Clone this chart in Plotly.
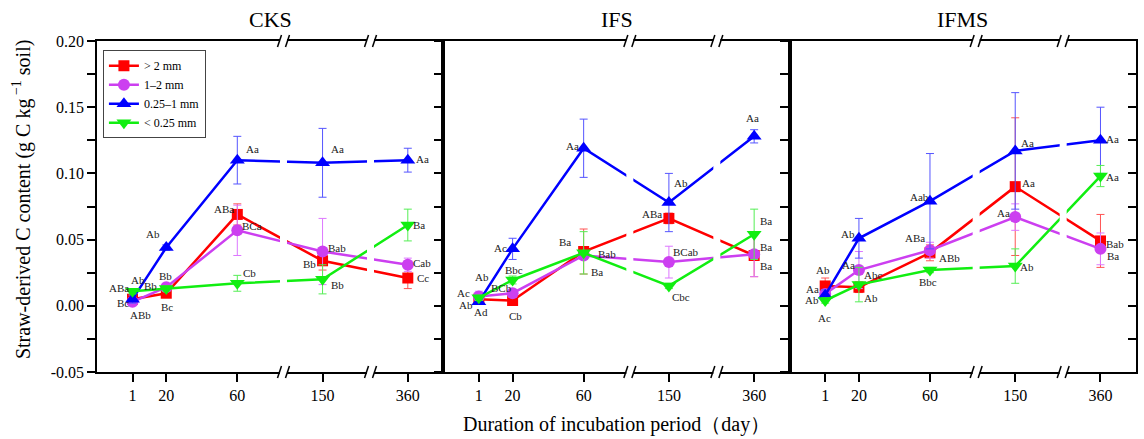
import plotly.graph_objects as go

# ---------------- data ----------------
days = [1, 20, 60, 150, 360]
day_labels = ["1", "20", "60", "150", "360"]
panel_titles = ["CKS", "IFS", "IFMS"]
series_names = ["> 2 mm", "1–2 mm", "0.25–1 mm", "< 0.25 mm"]

# CKS
cks_gt2 = [0.005, 0.0095, 0.069, 0.034, 0.021]
cks_gt2_err = [0.002, 0.002, 0.008, 0.007, 0.008]
cks_gt2_lab = ["Bc", "Bc", "ABa", "Bb", "Cc"]
cks_m12 = [0.003, 0.014, 0.057, 0.041, 0.031]
cks_m12_err = [0.002, 0.002, 0.019, 0.025, 0.005]
cks_m12_lab = ["ABb", "Bb", "BCa", "Bab", "Cab"]
cks_m025 = [0.005, 0.044, 0.110, 0.108, 0.110]
cks_m025_err = [0.003, 0.002, 0.018, 0.026, 0.009]
cks_m025_lab = ["Ab", "Ab", "Aa", "Aa", "Aa"]
cks_lt025 = [0.011, 0.013, 0.017, 0.020, 0.061]
cks_lt025_err = [0.002, 0.002, 0.006, 0.011, 0.012]
cks_lt025_lab = ["ABa", "Bb", "Cb", "Bb", "Ba"]

# IFS
ifs_gt2 = [0.005, 0.004, 0.041, 0.066, 0.038]
ifs_gt2_err = [0.002, 0.002, 0.017, 0.004, 0.016]
ifs_gt2_lab = ["Ab", "Cb", "Ba", "ABa", "Ba"]
ifs_m12 = [0.007, 0.0095, 0.038, 0.033, 0.039]
ifs_m12_err = [0.004, 0.003, 0.003, 0.012, 0.017]
ifs_m12_lab = ["Ac", "BCb", "Bab", "BCab", "Ba"]
ifs_m025 = [0.003, 0.043, 0.119, 0.078, 0.128]
ifs_m025_err = [0.002, 0.008, 0.022, 0.022, 0.005]
ifs_m025_lab = ["Ad", "Ac", "Aa", "Ab", "Aa"]
ifs_lt025 = [0.006, 0.0195, 0.040, 0.015, 0.054]
ifs_lt025_err = [0.002, 0.003, 0.016, 0.002, 0.019]
ifs_lt025_lab = ["Ab", "Bbc", "Ba", "Cbc", "Ba"]

# IFMS
ifms_gt2 = [0.015, 0.014, 0.040, 0.090, 0.049]
ifms_gt2_err = [0.006, 0.004, 0.006, 0.052, 0.020]
ifms_gt2_lab = ["Ab", "Abc", "ABb", "Aa", "Bab"]
ifms_m12 = [0.009, 0.027, 0.042, 0.067, 0.043]
ifms_m12_err = [0.003, 0.014, 0.006, 0.010, 0.012]
ifms_m12_lab = ["Aa", "Aa", "ABa", "Aa", "Ba"]
ifms_m025 = [0.008, 0.051, 0.079, 0.117, 0.125]
ifms_m025_err = [0.004, 0.015, 0.036, 0.044, 0.025]
ifms_m025_lab = ["Ab", "Ab", "Aab", "Aa", "Aa"]
ifms_lt025 = [0.004, 0.016, 0.027, 0.030, 0.098]
ifms_lt025_err = [0.002, 0.013, 0.002, 0.013, 0.008]
ifms_lt025_lab = ["Ac", "Ab", "Bbc", "Ab", "Aa"]

y_tickvals = [-0.05, 0.00, 0.05, 0.10, 0.15, 0.20]
y_ticktext = ["-0.05", "0.00", "0.05", "0.10", "0.15", "0.20"]
y_minor = [-0.025, 0.025, 0.075, 0.125, 0.175]

# ---------------- label offsets in pixels (style): (dx list, dy list), dy positive = down ----------------
offs = {
    "CKS": [
        ([-10, 1, -13, -13, 15], [4, 14, -5, 3, 0]),
        ([8, -1, 15, 14, 14], [13, -11, -4, -4, -2]),
        ([5, -13, 15, 15, 15], [-19, -14, -11, -14, -1]),
        ([-14, -16, 12, 15, 11], [-3, -3, -10, 6, 0]),
    ],
    "IFS": [
        ([-13, 3, -19, -17, 12], [6, 15, -10, -4, 11]),
        ([-15, -11, 23, 17, 12], [-4, -5, -1, -10, -7]),
        ([2, -12, -11, 12, -2], [10, -1, -2, -20, -18]),
        ([3, 1, 13, 12, 12], [-21, -10, 19, 11, -13]),
    ],
    "IFMS": [
        ([-2, 14, 20, 13, 15], [-16, -12, 5, -4, 3]),
        ([-13, -10, -15, -12, 13], [-5, -5, -12, -4, 7]),
        ([-13, -11, -10, 12, 12], [5, -4, -4, -8, -1]),
        ([-1, 12, -2, 12, 12], [17, 13, 12, 1, 1]),
    ],
}

panels = {
    "CKS": [(cks_gt2, cks_gt2_err, cks_gt2_lab), (cks_m12, cks_m12_err, cks_m12_lab),
            (cks_m025, cks_m025_err, cks_m025_lab), (cks_lt025, cks_lt025_err, cks_lt025_lab)],
    "IFS": [(ifs_gt2, ifs_gt2_err, ifs_gt2_lab), (ifs_m12, ifs_m12_err, ifs_m12_lab),
            (ifs_m025, ifs_m025_err, ifs_m025_lab), (ifs_lt025, ifs_lt025_err, ifs_lt025_lab)],
    "IFMS": [(ifms_gt2, ifms_gt2_err, ifms_gt2_lab), (ifms_m12, ifms_m12_err, ifms_m12_lab),
             (ifms_m025, ifms_m025_err, ifms_m025_lab), (ifms_lt025, ifms_lt025_err, ifms_lt025_lab)],
}

colors = ["#FF0000", "#CC3FF0", "#0000FF", "#11EE11"]
err_colors = ["#FF5555", "#DD77FF", "#5555FF", "#55EE55"]
symbols = ["square", "circle", "triangle-up", "triangle-down"]
msizes = [11, 12, 13, 13]

# broken x axis: removed day intervals
BREAKS = [(86, 128), (177, 339)]


def bx(d):
    s = d
    for a, b in BREAKS:
        if d >= b:
            s -= (b - a)
    return s


XRANGE = [-19, bx(380)]
break_pos = [bx(a) for a, _ in BREAKS]

FONT = "Liberation Serif, Times New Roman, serif"

fig = go.Figure()
ann = []

for pi, pname in enumerate(panel_titles):
    xa = "x" if pi == 0 else f"x{pi+1}"
    ya = "y" if pi == 0 else f"y{pi+1}"
    for si, (vals, errs, labs) in enumerate(panels[pname]):
        xs = [bx(d) for d in days]
        fig.add_trace(go.Scatter(
            x=xs, y=vals,
            mode="lines+markers",
            line=dict(color=colors[si], width=2.5),
            marker=dict(symbol=symbols[si], size=msizes[si], color=colors[si]),
            error_y=dict(type="data", array=errs, visible=True, color=err_colors[si],
                         thickness=1, width=4),
            name=series_names[si], legendgroup=series_names[si],
            showlegend=(pi == 0), cliponaxis=False,
            xaxis=xa, yaxis=ya,
        ))
        dxs, dys = offs[pname][si]
        for x, v, t, dx, dy in zip(xs, vals, labs, dxs, dys):
            ann.append(dict(x=x, y=v, xref=xa, yref=ya, text=t, showarrow=False,
                            xanchor="center", yanchor="middle", xshift=dx, yshift=-dy,
                            font=dict(family=FONT, size=11, color="#222")))

# dummy trace for right-hand inner ticks of last panel
fig.add_trace(go.Scatter(x=[None], y=[None], xaxis="x3", yaxis="y4",
                         showlegend=False, hoverinfo="skip"))

axis_common = dict(showline=True, linewidth=1.5, linecolor="black", showgrid=False,
                   zeroline=False, tickcolor="black", tickwidth=1.5, ticklen=8,
                   tickfont=dict(family=FONT, size=16, color="black"))

layout = dict(
    width=1144, height=439,
    margin=dict(l=97, r=6, t=41, b=67),
    plot_bgcolor="white", paper_bgcolor="white",
    font=dict(family=FONT, color="black"),
    legend=dict(x=0.0057, y=0.972, xanchor="left", yanchor="top",
                bordercolor="#444", borderwidth=1, bgcolor="white",
                font=dict(family=FONT, size=12, color="black"),
                tracegroupgap=0, itemwidth=30),
)

for pi in range(3):
    xk = "xaxis" if pi == 0 else f"xaxis{pi+1}"
    yk = "yaxis" if pi == 0 else f"yaxis{pi+1}"
    ya = "y" if pi == 0 else f"y{pi+1}"
    xa = "x" if pi == 0 else f"x{pi+1}"
    layout[xk] = dict(domain=[pi / 3, (pi + 1) / 3], anchor=ya, range=XRANGE,
                      tickmode="array", tickvals=[bx(d) for d in days], ticktext=day_labels,
                      ticks="outside", mirror=True, **axis_common)
    layout[yk] = dict(anchor=xa, range=[-0.05, 0.20], tickmode="array",
                      tickvals=y_tickvals, ticktext=y_ticktext, ticks="outside",
                      showticklabels=(pi == 0), mirror=True,
                      minor=dict(tickvals=y_minor, ticks="outside", ticklen=8,
                                 tickwidth=1.5, tickcolor="black"),
                      **axis_common)
    if pi > 0:
        layout[yk]["matches"] = "y"

layout["yaxis4"] = dict(overlaying="y3", anchor="x3", side="right", range=[-0.05, 0.20],
                        tickmode="array", tickvals=y_tickvals, showticklabels=False,
                        ticks="inside", showline=False, showgrid=False, zeroline=False,
                        tickcolor="black", tickwidth=1.5, ticklen=8,
                        minor=dict(tickvals=y_minor, ticks="inside", ticklen=8,
                                   tickwidth=1.5, tickcolor="black"))

fig.update_layout(**layout)

# axis breaks
shapes = []
for pi in range(3):
    xa = "x" if pi == 0 else f"x{pi+1}"
    ya = "y" if pi == 0 else f"y{pi+1}"
    for p in break_pos:
        shapes.append(dict(type="rect", xref=xa, xsizemode="pixel", xanchor=p, x0=-3.5, x1=3.5,
                           yref=f"{ya} domain", y0=-0.012, y1=1.012,
                           fillcolor="white", line=dict(width=0), layer="above"))
        for yv in (0, 1):
            for (a0, a1) in ((-6, -2), (2, 6)):
                shapes.append(dict(type="line", xref=xa, xsizemode="pixel", xanchor=p,
                                   x0=a0, x1=a1, yref=f"{ya} domain", ysizemode="pixel",
                                   yanchor=yv, y0=-6, y1=6,
                                   line=dict(color="black", width=1.5), layer="above"))
fig.update_layout(shapes=shapes)

# titles
for pi, t in enumerate(panel_titles):
    ann.append(dict(text=t, xref="paper", yref="paper", x=(pi + 0.5) / 3, y=1,
                    xanchor="center", yanchor="bottom", yshift=7, showarrow=False,
                    font=dict(family=FONT, size=22, color="black")))
ann.append(dict(text="Straw-derived C content (g C kg<sup> −1</sup> soil)", xref="paper",
                yref="paper", x=-0.072, y=0.52, xanchor="center", yanchor="middle",
                textangle=-90, showarrow=False, font=dict(family=FONT, size=20, color="black")))
ann.append(dict(text="Duration of incubation period（day）", xref="paper", yref="paper",
                x=0.5, y=-0.16, xanchor="center", yanchor="middle", showarrow=False,
                font=dict(family=FONT, size=20, color="black")))
fig.update_layout(annotations=ann)

fig.write_html("out.html")
